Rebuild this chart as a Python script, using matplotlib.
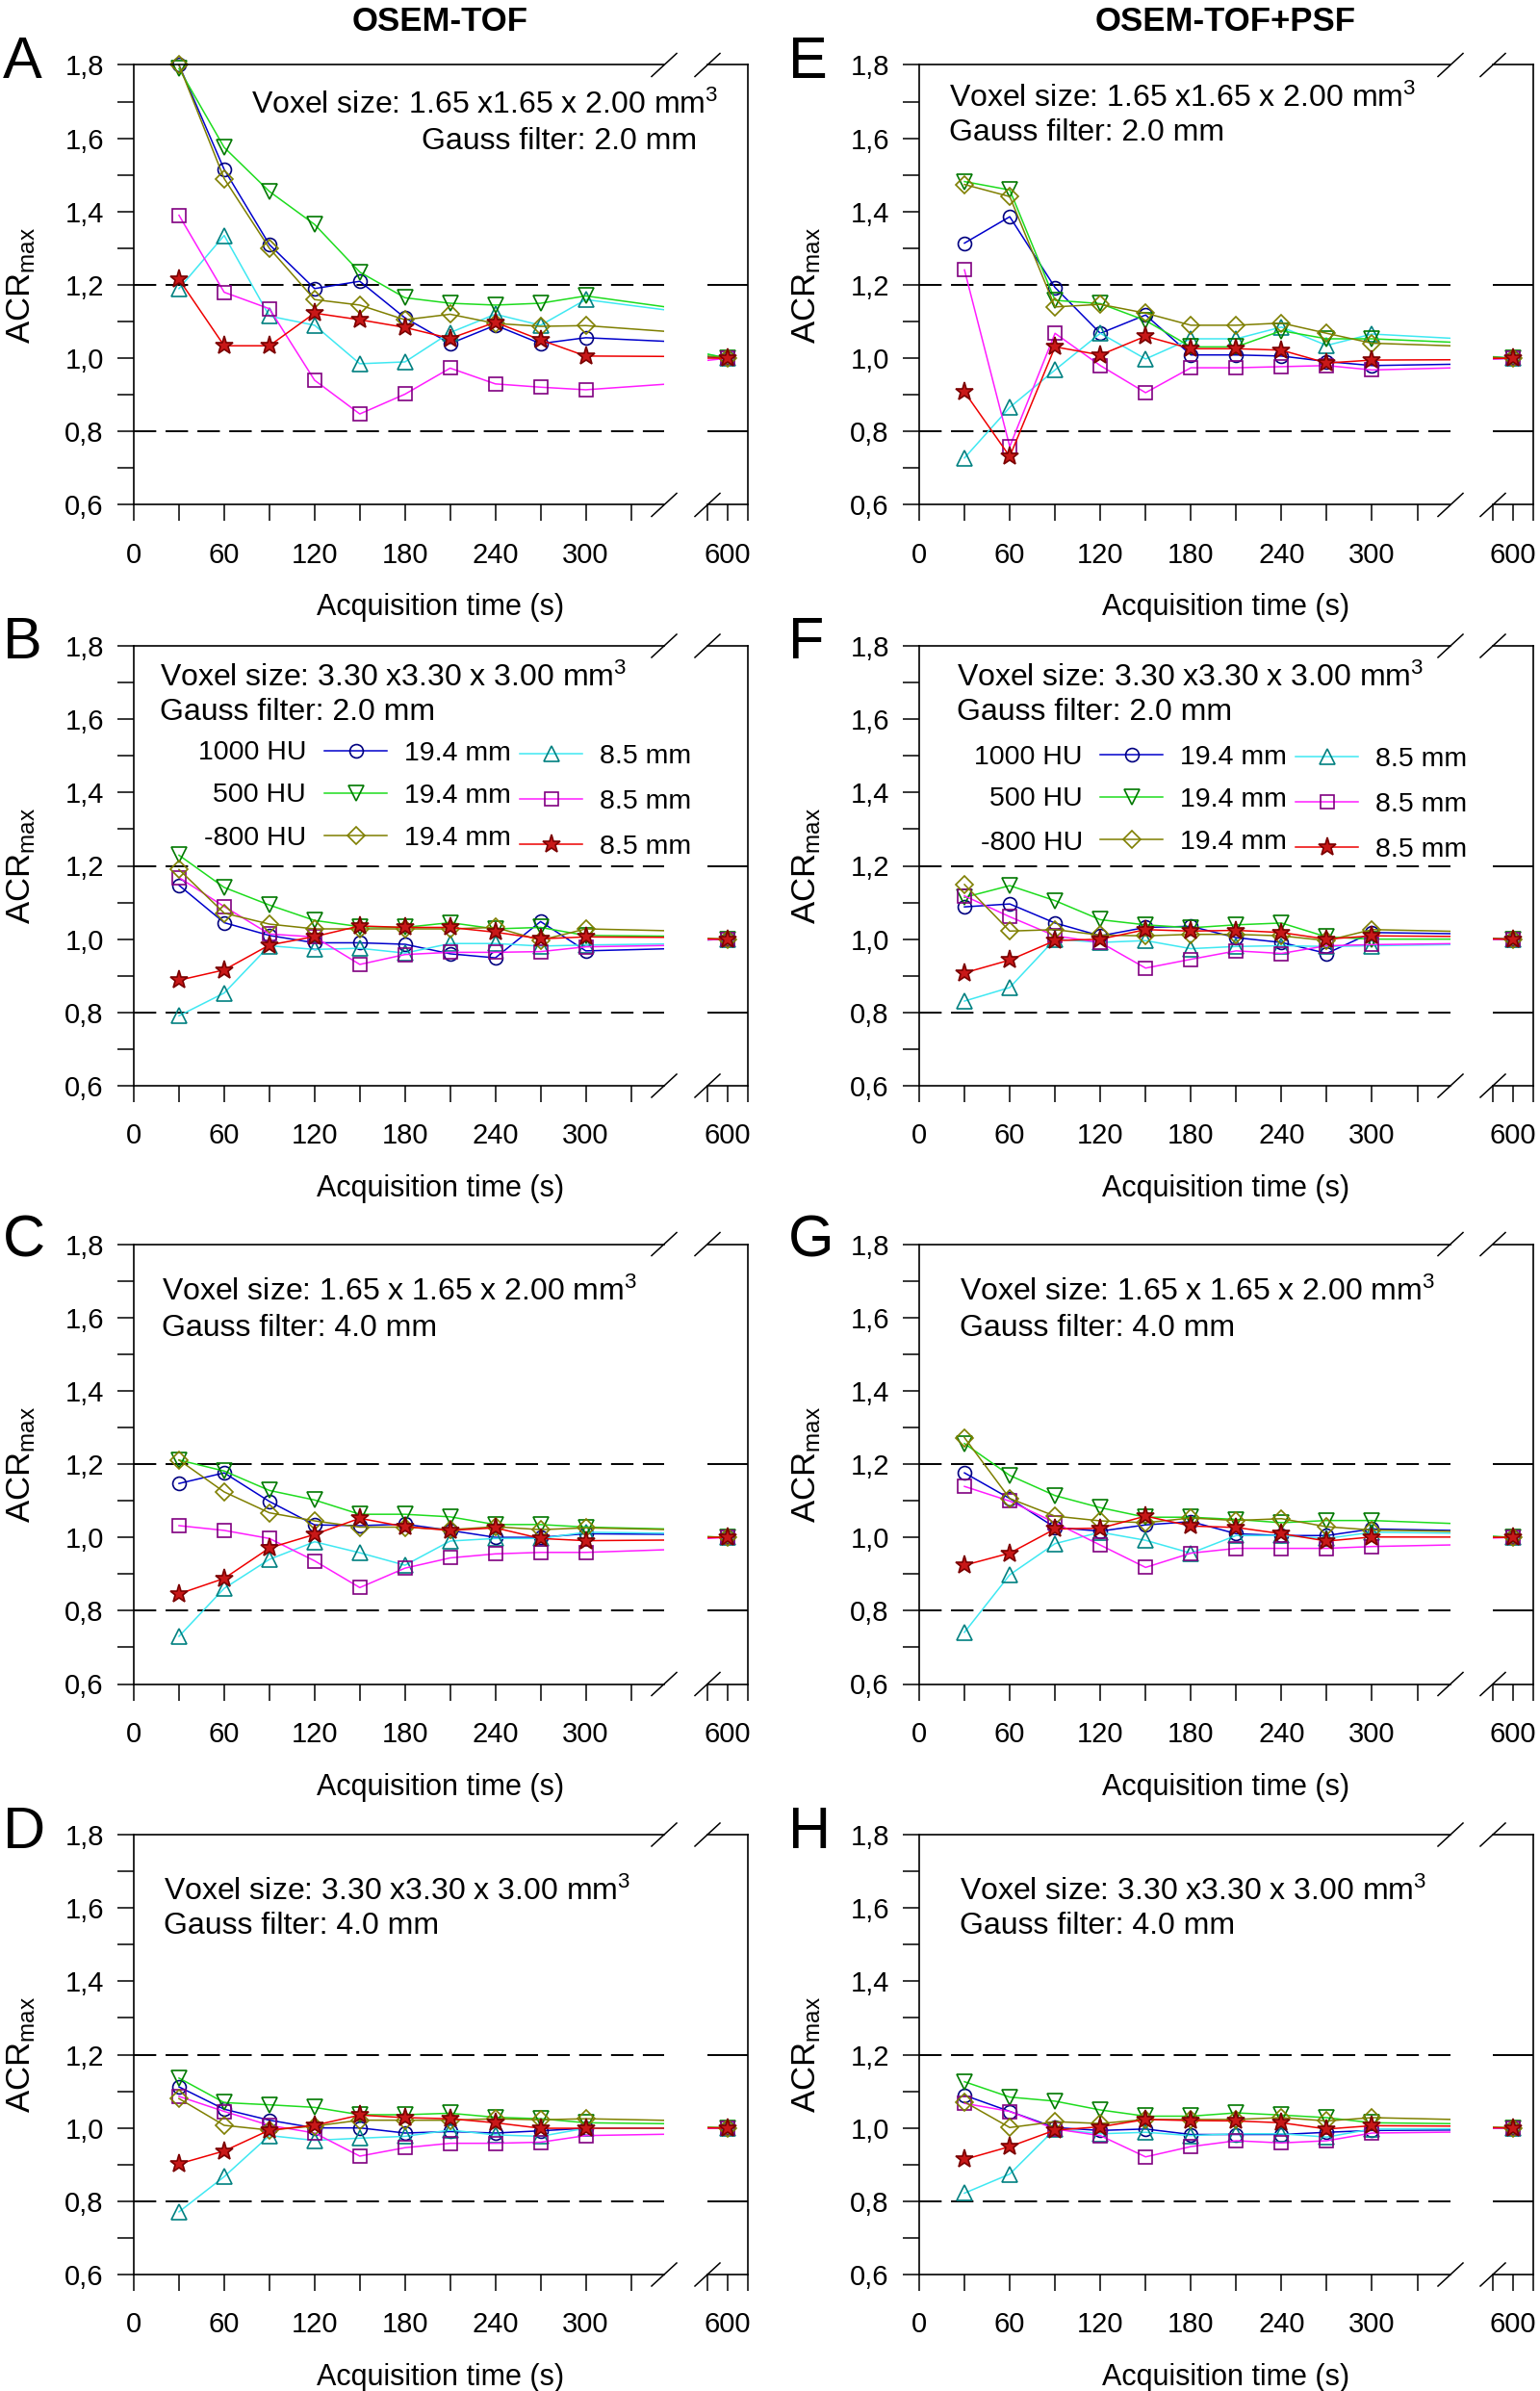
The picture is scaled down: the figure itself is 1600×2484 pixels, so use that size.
import matplotlib
matplotlib.use("Agg")
import matplotlib.pyplot as plt
from matplotlib.ticker import FixedLocator, FuncFormatter
from matplotlib.transforms import Bbox, TransformedBbox

plt.rcParams['font.family'] = ['Liberation Sans', 'DejaVu Sans']
plt.rcParams['mathtext.fontset'] = 'custom'
plt.rcParams['mathtext.rm'] = 'Liberation Sans'
plt.rcParams['mathtext.it'] = 'Liberation Sans:italic'
plt.rcParams['mathtext.bf'] = 'Liberation Sans:bold'

# acquisition times (s), every curve normalised to its 600 s value
times = [30, 60, 90, 120, 150, 180, 210, 240, 270, 300, 600]

# series order: 1000 HU 19.4 / 8.5, 500 HU 19.4 / 8.5, -800 HU 19.4 / 8.5
hu_labels = ['1000 HU', '500 HU', '-800 HU']
size_labels = ['19.4 mm', '8.5 mm']

# OSEM-TOF
acr_A = [[1.80, 1.515, 1.31, 1.19, 1.21, 1.11, 1.04, 1.09, 1.04, 1.056, 1.0],
         [1.19, 1.335, 1.115, 1.09, 0.985, 0.99, 1.07, 1.12, 1.09, 1.16, 1.0],
         [1.79, 1.575, 1.455, 1.365, 1.235, 1.165, 1.15, 1.145, 1.15, 1.17, 1.0],
         [1.39, 1.18, 1.135, 0.94, 0.848, 0.902, 0.973, 0.93, 0.921, 0.914, 1.0],
         [1.80, 1.49, 1.30, 1.16, 1.145, 1.105, 1.12, 1.095, 1.087, 1.089, 1.0],
         [1.215, 1.034, 1.034, 1.123, 1.105, 1.084, 1.054, 1.098, 1.05, 1.006, 1.0]]
acr_B = [[1.147, 1.045, 1.01, 0.99, 0.99, 0.986, 0.96, 0.949, 1.048, 0.968, 1.0],
         [0.791, 0.853, 0.982, 0.972, 0.975, 0.962, 0.988, 0.988, 0.981, 0.984, 1.0],
         [1.229, 1.141, 1.093, 1.051, 1.034, 1.032, 1.045, 1.028, 1.032, 1.01, 1.0],
         [1.168, 1.089, 1.014, 1.006, 0.931, 0.958, 0.964, 0.964, 0.966, 0.979, 1.0],
         [1.19, 1.071, 1.041, 1.028, 1.028, 1.028, 1.028, 1.032, 0.997, 1.028, 1.0],
         [0.888, 0.916, 0.984, 1.007, 1.036, 1.032, 1.032, 1.019, 1.001, 1.006, 1.0]]
acr_C = [[1.147, 1.176, 1.098, 1.034, 1.032, 1.036, 1.019, 1.0, 1.0, 1.01, 1.0],
         [0.73, 0.861, 0.94, 0.988, 0.958, 0.924, 0.99, 0.997, 0.997, 1.014, 1.0],
         [1.211, 1.181, 1.128, 1.102, 1.063, 1.063, 1.056, 1.035, 1.035, 1.028, 1.0],
         [1.032, 1.019, 0.997, 0.936, 0.863, 0.916, 0.944, 0.955, 0.959, 0.959, 1.0],
         [1.211, 1.124, 1.067, 1.045, 1.028, 1.028, 1.021, 1.029, 1.021, 1.026, 1.0],
         [0.846, 0.888, 0.971, 1.008, 1.052, 1.029, 1.019, 1.026, 0.997, 0.991, 1.0]]
acr_D = [[1.112, 1.051, 1.021, 1.0, 1.0, 0.986, 0.99, 0.986, 0.992, 0.999, 1.0],
         [0.771, 0.867, 0.979, 0.966, 0.972, 0.977, 0.994, 0.981, 0.977, 0.999, 1.0],
         [1.136, 1.069, 1.063, 1.056, 1.036, 1.036, 1.04, 1.029, 1.025, 1.014, 1.0],
         [1.086, 1.045, 1.007, 0.986, 0.923, 0.946, 0.958, 0.958, 0.961, 0.979, 1.0],
         [1.08, 1.007, 0.994, 1.005, 1.021, 1.021, 1.021, 1.025, 1.022, 1.025, 1.0],
         [0.902, 0.937, 0.994, 1.007, 1.035, 1.028, 1.025, 1.014, 0.999, 0.999, 1.0]]

# OSEM-TOF+PSF
acr_E = [[1.314, 1.386, 1.193, 1.068, 1.118, 1.009, 1.009, 1.006, 0.991, 0.98, 1.0],
         [0.728, 0.866, 0.968, 1.068, 0.998, 1.053, 1.053, 1.085, 1.035, 1.066, 1.0],
         [1.482, 1.459, 1.158, 1.149, 1.103, 1.031, 1.031, 1.075, 1.053, 1.053, 1.0],
         [1.241, 0.759, 1.068, 0.98, 0.906, 0.974, 0.974, 0.977, 0.98, 0.968, 1.0],
         [1.474, 1.441, 1.14, 1.147, 1.123, 1.09, 1.09, 1.096, 1.068, 1.041, 1.0],
         [0.908, 0.732, 1.031, 1.009, 1.06, 1.026, 1.026, 1.022, 0.987, 0.995, 1.0]]
acr_F = [[1.088, 1.096, 1.044, 1.009, 1.032, 1.035, 1.004, 0.991, 0.961, 1.018, 1.0],
         [0.831, 0.868, 1.0, 0.991, 0.996, 0.974, 0.98, 0.982, 0.98, 0.982, 1.0],
         [1.114, 1.146, 1.105, 1.053, 1.039, 1.031, 1.039, 1.044, 1.006, 1.0, 1.0],
         [1.118, 1.061, 1.009, 0.991, 0.921, 0.945, 0.968, 0.961, 0.982, 0.985, 1.0],
         [1.149, 1.022, 1.026, 1.011, 1.009, 1.013, 1.013, 1.009, 0.996, 1.026, 1.0],
         [0.908, 0.943, 0.996, 1.0, 1.026, 1.022, 1.024, 1.018, 1.0, 1.009, 1.0]]
acr_G = [[1.176, 1.106, 1.027, 1.017, 1.034, 1.043, 1.01, 1.005, 1.005, 1.023, 1.0],
         [0.741, 0.898, 0.983, 1.014, 0.992, 0.957, 1.005, 1.005, 0.997, 1.014, 1.0],
         [1.256, 1.169, 1.114, 1.081, 1.055, 1.055, 1.049, 1.04, 1.046, 1.046, 1.0],
         [1.139, 1.099, 1.04, 0.979, 0.918, 0.957, 0.97, 0.97, 0.97, 0.975, 1.0],
         [1.272, 1.106, 1.058, 1.045, 1.04, 1.053, 1.046, 1.051, 1.029, 1.02, 1.0],
         [0.924, 0.957, 1.023, 1.025, 1.058, 1.031, 1.027, 1.01, 0.99, 1.001, 1.0]]
acr_H = [[1.089, 1.045, 1.001, 0.993, 0.997, 0.982, 0.982, 0.982, 0.988, 0.993, 1.0],
         [0.822, 0.874, 0.997, 0.984, 0.988, 0.979, 0.984, 0.984, 0.975, 0.997, 1.0],
         [1.126, 1.084, 1.073, 1.049, 1.032, 1.032, 1.041, 1.035, 1.028, 1.014, 1.0],
         [1.067, 1.045, 0.997, 0.979, 0.921, 0.949, 0.965, 0.959, 0.965, 0.986, 1.0],
         [1.071, 1.001, 1.017, 1.012, 1.023, 1.023, 1.023, 1.028, 1.019, 1.028, 1.0],
         [0.914, 0.949, 0.994, 1.003, 1.023, 1.02, 1.019, 1.014, 0.997, 1.006, 1.0]]

styles = [dict(color='#0000CC', marker='o', mec='#000080', mfc='none', ms=10),
          dict(color='#3FE8F2', marker='^', mec='#008080', mfc='none', ms=11),
          dict(color='#1EDC1E', marker='v', mec='#007800', mfc='none', ms=11),
          dict(color='#FF1CFF', marker='s', mec='#800080', mfc='none', ms=9.5),
          dict(color='#7F7F00', marker='D', mec='#7F7F00', mfc='none', ms=9),
          dict(color='#EE0000', marker='*', mec='#7A0000', mfc='#C81818', ms=14)]

vox1 = 'Voxel size: 1.65 x1.65 x 2.00 mm$^3$'
vox2 = 'Voxel size: 3.30 x3.30 x 3.00 mm$^3$'
vox3 = 'Voxel size: 1.65 x 1.65 x 2.00 mm$^3$'

W, H = 1600, 2484
fig = plt.figure(figsize=(W / 100, H / 100), dpi=100)

# pixel layout: main segment x0..x1, right segment r0..r1
col_x = [(139, 690, 735, 777), (955, 1507, 1551, 1593)]
row_y = [(67.5, 524.5), (671, 1128), (1292.5, 1749.5), (1906, 2363)]

# letter, column, row, data, text lines, (x1, y1, x2, y2, ha), legend
panels = [
    ('A', 0, 0, acr_A, (vox1, 'Gauss filter: 2.0 mm'), (746, 107, 724, 144, 'right'), False),
    ('B', 0, 1, acr_B, (vox2, 'Gauss filter: 2.0 mm'), (166, 702, 166, 737, 'left'), True),
    ('C', 0, 2, acr_C, (vox3, 'Gauss filter: 4.0 mm'), (168, 1340, 168, 1377, 'left'), False),
    ('D', 0, 3, acr_D, (vox2, 'Gauss filter: 4.0 mm'), (170, 1963, 170, 1998, 'left'), False),
    ('E', 1, 0, acr_E, (vox1, 'Gauss filter: 2.0 mm'), (986, 100, 986, 135, 'left'), False),
    ('F', 1, 1, acr_F, (vox2, 'Gauss filter: 2.0 mm'), (994, 702, 994, 737, 'left'), True),
    ('G', 1, 2, acr_G, (vox3, 'Gauss filter: 4.0 mm'), (997, 1340, 997, 1377, 'left'), False),
    ('H', 1, 3, acr_H, (vox2, 'Gauss filter: 4.0 mm'), (997, 1963, 997, 1998, 'left'), False),
]
# legend geometry (pixels): HU label right edge, row centres, legend handle starts
legend_geo = {
    'B': (318, [782, 826, 871], 337, 827, 540, 833),
    'F': (1125, [787, 830, 876], 1143, 831, 1346, 836),
}

comma = FuncFormatter(lambda v, p: f'{v:.1f}'.replace('.', ','))


def fxy(px, py):
    return px / W, 1 - py / H


def slash(a, xa, dx, dy):
    for ya in (0, 1):
        a.plot([xa - dx, xa + dx], [ya - dy, ya + dy], transform=a.transAxes,
               color='k', lw=1.1, clip_on=False)


for letter, col, row, vals, lines, tpos, has_leg in panels:
    x0, x1, r0, r1 = col_x[col]
    top, bot = row_y[row]
    ax = fig.add_axes([x0 / W, 1 - bot / H, (x1 - x0) / W, (bot - top) / H])
    axr = fig.add_axes([r0 / W, 1 - bot / H, (r1 - r0) / W, (bot - top) / H])

    ax.axhline(1.2, color='k', lw=1.4, ls=(0, (12, 5)), zorder=1)
    ax.axhline(0.8, color='k', lw=1.4, ls=(0, (12, 5)), zorder=1)
    axr.axhline(1.2, color='k', lw=1.4, zorder=1)
    axr.axhline(0.8, color='k', lw=1.4, zorder=1)

    handles = []
    for a in (ax, axr):
        clip = TransformedBbox(Bbox([[0, -0.04], [1, 1.04]]), a.transAxes)
        for v, st in zip(vals, styles):
            ln, = a.plot(times, v, lw=1.1, mew=1.2, **st)
            ln.set_clip_box(clip)
            if a is ax:
                handles.append(ln)
        a.set_ylim(0.6, 1.8)
        for sp in a.spines.values():
            sp.set_linewidth(1.2)

    ax.set_xlim(0, 352)
    ax.spines['right'].set_visible(False)
    ax.xaxis.set_major_locator(FixedLocator([0, 60, 120, 180, 240, 300]))
    ax.xaxis.set_minor_locator(FixedLocator([30, 90, 150, 210, 270, 330]))
    ax.yaxis.set_major_locator(FixedLocator([0.6, 0.8, 1.0, 1.2, 1.4, 1.6, 1.8]))
    ax.yaxis.set_minor_locator(FixedLocator([0.7, 0.9, 1.1, 1.3, 1.5, 1.7]))
    ax.yaxis.set_major_formatter(comma)
    ax.tick_params(which='both', direction='out', length=12.5, width=1.1,
                   labelsize=21, top=False, right=False)
    ax.tick_params(axis='x', which='both', pad=15)
    ax.tick_params(axis='y', which='both', pad=10)

    axr.set_xlim(580, 620)
    axr.spines['left'].set_visible(False)
    axr.set_xticks([580, 600, 620])
    axr.set_xticklabels(['', '600', ''])
    axr.tick_params(axis='x', direction='out', length=12.5, width=1.1,
                    labelsize=21, pad=15)
    axr.tick_params(axis='y', left=False, labelleft=False)

    slash(ax, 1.0, 13 / (x1 - x0), 12 / (bot - top))
    slash(axr, 0.0, 13 / (r1 - r0), 12 / (bot - top))

    # panel letter, y label, x label
    fig.text(*fxy(x0 - 136, top - 2), letter, fontsize=44, ha='left', va='center')
    fig.text(*fxy(x0 - 117, (top + bot) / 2), r'ACR$_{\mathrm{max}}$', fontsize=25,
             rotation=90, ha='center', va='center')
    fig.text(*fxy((x0 + r1) / 2, bot + 107), 'Acquisition time (s)', fontsize=22,
             ha='center', va='center')

    # voxel / filter annotations
    tx1, ty1, tx2, ty2, ha = tpos
    fig.text(*fxy(tx1, ty1 + 11), lines[0], fontsize=23, ha=ha, va='baseline')
    fig.text(*fxy(tx2, ty2 + 11), lines[1], fontsize=23, ha=ha, va='baseline')

    if has_leg:
        hu_x, hu_rows, l1x, l1y, l2x, l2y = legend_geo[letter]
        for lab, yy in zip(hu_labels, hu_rows):
            fig.text(*fxy(hu_x, yy), lab, fontsize=20.5, ha='right', va='center')
        kw = dict(frameon=False, fontsize=20.5, handlelength=2.3, handletextpad=0.62,
                  borderpad=0, borderaxespad=0, numpoints=1,
                  loc='center left', bbox_transform=fig.transFigure)
        leg1 = ax.legend(handles[0::2], [size_labels[0]] * 3, labelspacing=0.63,
                         bbox_to_anchor=fxy(l1x, l1y), **kw)
        ax.add_artist(leg1)
        ax.legend(handles[1::2], [size_labels[1]] * 3, labelspacing=0.75,
                  bbox_to_anchor=fxy(l2x, l2y), **kw)

fig.text(*fxy(457, 22), 'OSEM-TOF', fontsize=25, fontweight='bold',
         ha='center', va='center')
fig.text(*fxy(1273, 22), 'OSEM-TOF+PSF', fontsize=25, fontweight='bold',
         ha='center', va='center')

fig.savefig('out.png', dpi=100)
